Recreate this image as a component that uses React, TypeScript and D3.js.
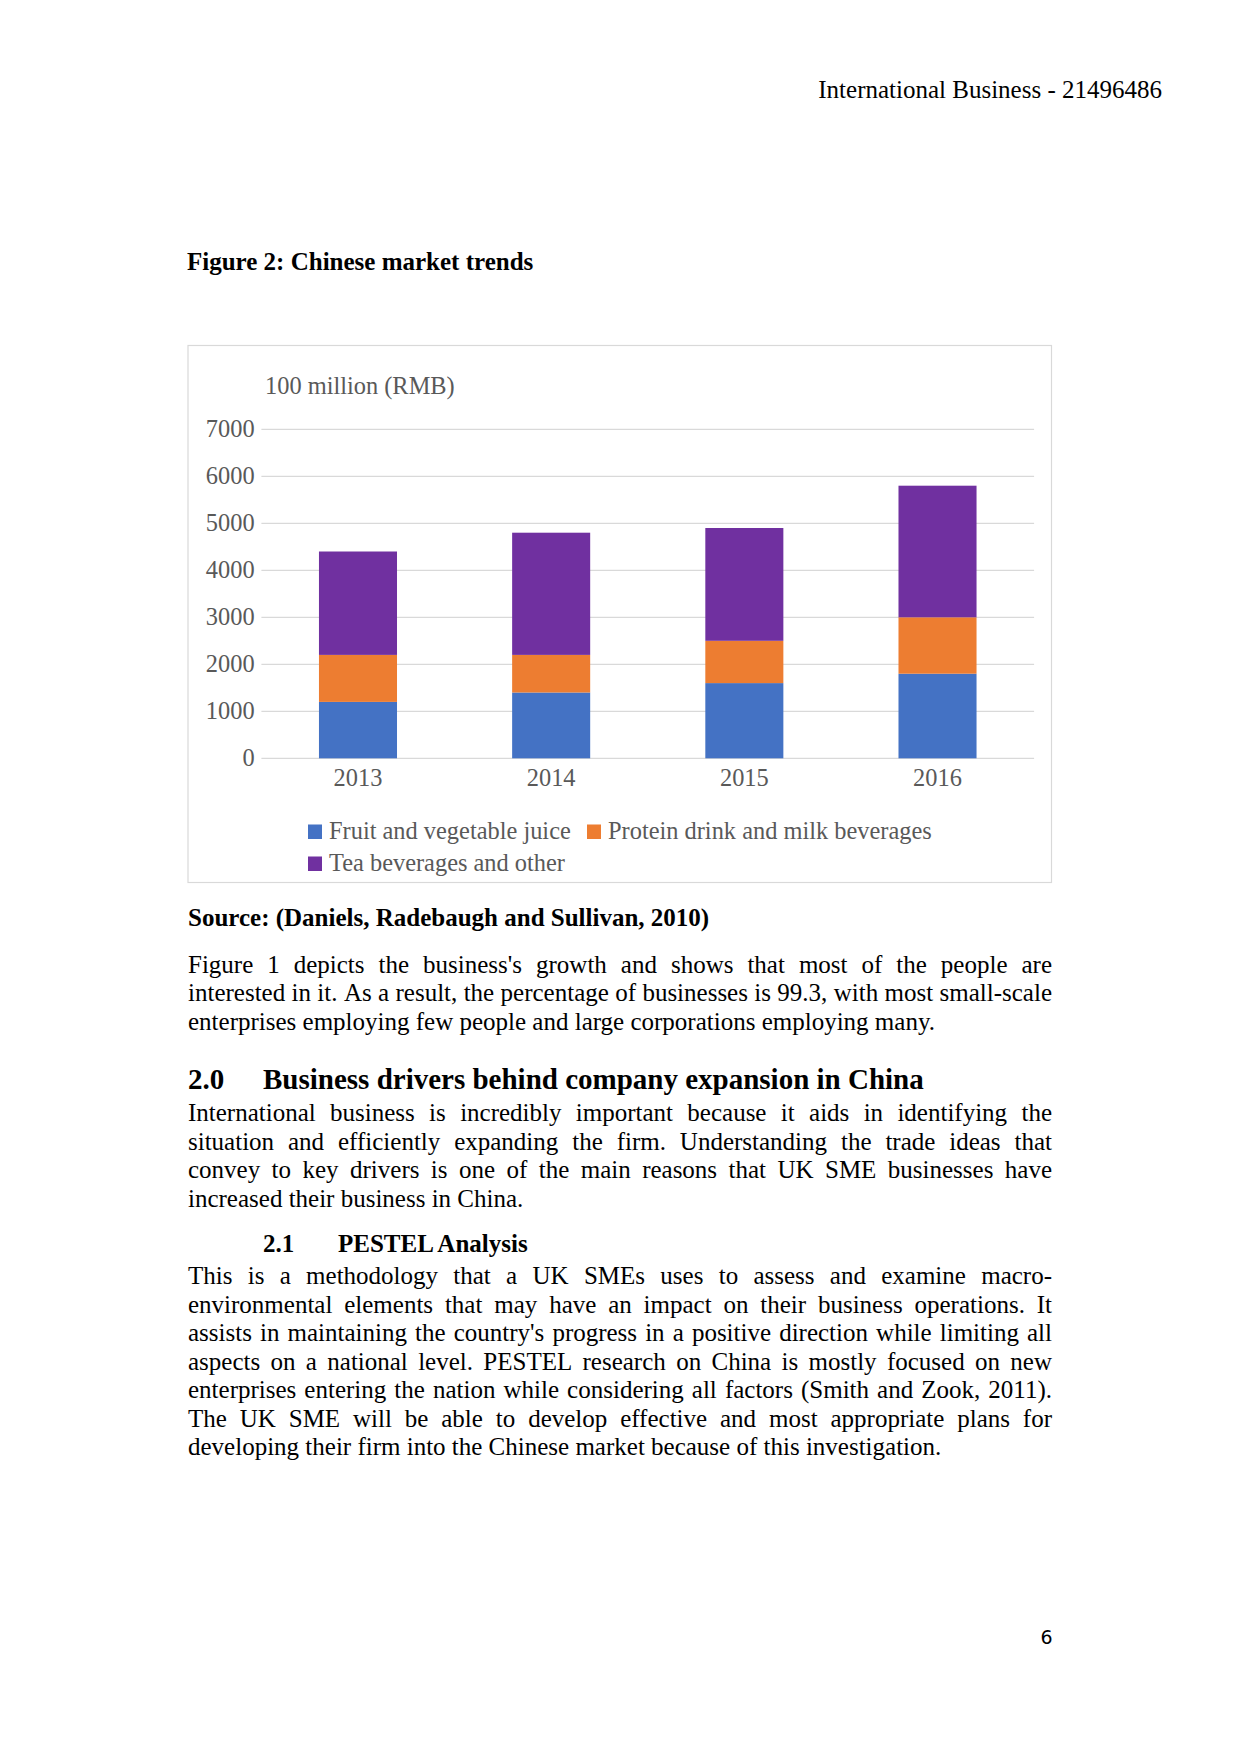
import React from 'react';
import * as d3 from 'd3';

const years = ['2013', '2014', '2015', '2016'];
const fruitJuice = [1200, 1400, 1600, 1800];
const proteinMilk = [1000, 800, 900, 1200];
const teaOther = [2200, 2600, 2400, 2800];
const yTicks = [0, 1000, 2000, 3000, 4000, 5000, 6000, 7000];
const seriesKeys = ['fruit', 'protein', 'tea'];
const seriesNames = ['Fruit and vegetable juice', 'Protein drink and milk beverages', 'Tea beverages and other'];
const seriesColors = ['#4472C4', '#ED7D31', '#7030A0'];

const para1 = [
  "Figure 1 depicts the business's growth and shows that most of the people are",
  'interested in it. As a result, the percentage of businesses is 99.3, with most small-scale',
  'enterprises employing few people and large corporations employing many.',
];
const para2 = [
  'International business is incredibly important because it aids in identifying the',
  'situation and efficiently expanding the firm. Understanding the trade ideas that',
  'convey to key drivers is one of the main reasons that UK SME businesses have',
  'increased their business in China.',
];
const para3 = [
  'This is a methodology that a UK SMEs uses to assess and examine macro-',
  'environmental elements that may have an impact on their business operations. It',
  "assists in maintaining the country's progress in a positive direction while limiting all",
  'aspects on a national level. PESTEL research on China is mostly focused on new',
  'enterprises entering the nation while considering all factors (Smith and Zook, 2011).',
  'The UK SME will be able to develop effective and most appropriate plans for',
  'developing their firm into the Chinese market because of this investigation.',
];

const SERIF = "'Liberation Serif', 'Times New Roman', serif";
const BODY_FONT = `25px 'Liberation Serif'`;
const CHART_FS = 24.4;

let ctx: CanvasRenderingContext2D | null = null;
function measure(text: string, font: string): number {
  if (!ctx) ctx = document.createElement('canvas').getContext('2d');
  if (!ctx) return text.length * 11;
  ctx.font = font;
  return ctx.measureText(text).width;
}

function Line({ text, x, y, width, justify }: { text: string; x: number; y: number; width: number; justify: boolean }) {
  if (!justify) {
    return <text x={x} y={y}>{text}</text>;
  }
  const words = text.split(' ');
  const widths = words.map((w) => measure(w, BODY_FONT));
  const total = d3.sum(widths);
  const gap = (width - total) / (words.length - 1);
  let cx = x;
  return (
    <text y={y}>
      {words.map((w, i) => {
        const el = (
          <tspan key={i} x={cx}>
            {w}
          </tspan>
        );
        cx += widths[i] + gap;
        return el;
      })}
    </text>
  );
}

function Paragraph({ lines, y0, lh }: { lines: string[]; y0: number; lh: number }) {
  const x = 188;
  const w = 1052 - 188;
  return (
    <g>
      {lines.map((l, i) => (
        <Line key={i} text={l} x={x} y={y0 + i * lh} width={w} justify={i < lines.length - 1} />
      ))}
    </g>
  );
}

function Chart() {
  const y = d3.scaleLinear().domain([0, 7000]).range([758.3, 429.3]);
  const x = d3.scaleBand<string>().domain(years).range([261.4, 1034.1]).paddingInner(0.596).paddingOuter(0.298);
  const rows = years.map((yr, i) => ({ year: yr, fruit: fruitJuice[i], protein: proteinMilk[i], tea: teaOther[i] }));
  const stacked = d3.stack<any>().keys(seriesKeys)(rows);
  const grey = '#595959';
  return (
    <g fontFamily={SERIF}>
      <rect x={188} y={345.5} width={863.5} height={537} fill="#fff" stroke="#D9D9D9" strokeWidth={1.2} />
      <text x={265} y={394} fontSize={CHART_FS} fill={grey}>100 million (RMB)</text>
      {yTicks.map((t) => (
        <g key={t}>
          <line x1={261.4} x2={1034.1} y1={y(t)} y2={y(t)} stroke="#D9D9D9" strokeWidth={1.2} />
          <text x={254.6} y={y(t) + 8} textAnchor="end" fontSize={CHART_FS} fill={grey}>
            {t}
          </text>
        </g>
      ))}
      {stacked.map((s, si) => (
        <g key={s.key} fill={seriesColors[si]}>
          {s.map((d, i) => (
            <rect
              key={i}
              x={x(years[i])}
              width={x.bandwidth()}
              y={y(d[1])}
              height={y(d[0]) - y(d[1])}
            />
          ))}
        </g>
      ))}
      {years.map((yr) => (
        <text key={yr} x={(x(yr) as number) + x.bandwidth() / 2} y={786} textAnchor="middle" fontSize={CHART_FS} fill={grey}>
          {yr}
        </text>
      ))}
      {[
        { i: 0, sx: 308, ty: 839 },
        { i: 1, sx: 587, ty: 839 },
        { i: 2, sx: 308, ty: 871 },
      ].map(({ i, sx, ty }) => (
        <g key={i}>
          <rect x={sx} y={ty - 14.5} width={14} height={14.5} fill={seriesColors[i]} />
          <text x={sx + 21} y={ty} fontSize={CHART_FS} fill={grey}>
            {seriesNames[i]}
          </text>
        </g>
      ))}
    </g>
  );
}

export default function App() {
  return (
    <svg
      width={1241}
      height={1754}
      viewBox="0 0 1241 1754"
      style={{ position: 'absolute', left: 0, top: 0, background: '#fff' }}
      fontFamily={SERIF}
    >
      <rect x={0} y={0} width={1241} height={1754} fill="#fff" />
      <text x={1162} y={98} textAnchor="end" fontSize={25} fill="#000">
        International Business - 21496486
      </text>
      <text x={187} y={270} fontSize={25} fontWeight="bold" fill="#000">
        Figure 2: Chinese market trends
      </text>
      <Chart />
      <text x={188} y={926} fontSize={25} fontWeight="bold" fill="#000">
        Source: (Daniels, Radebaugh and Sullivan, 2010)
      </text>
      <g fontSize={25} fill="#000">
        <Paragraph lines={para1} y0={972.5} lh={28.6} />
      </g>
      <g fontSize={29} fontWeight="bold" fill="#000">
        <text x={188} y={1088.5}>2.0</text>
        <text x={263} y={1088.5}>Business drivers behind company expansion in China</text>
      </g>
      <g fontSize={25} fill="#000">
        <Paragraph lines={para2} y0={1120.8} lh={28.7} />
      </g>
      <g fontSize={25} fontWeight="bold" fill="#000">
        <text x={263} y={1251.5}>2.1</text>
        <text x={338} y={1251.5}>PESTEL Analysis</text>
      </g>
      <g fontSize={25} fill="#000">
        <Paragraph lines={para3} y0={1284} lh={28.5} />
      </g>
      <text x={1052.5} y={1644} textAnchor="end" fontSize={19} fontFamily="'DejaVu Sans', sans-serif" fill="#000">
        6
      </text>
    </svg>
  );
}
